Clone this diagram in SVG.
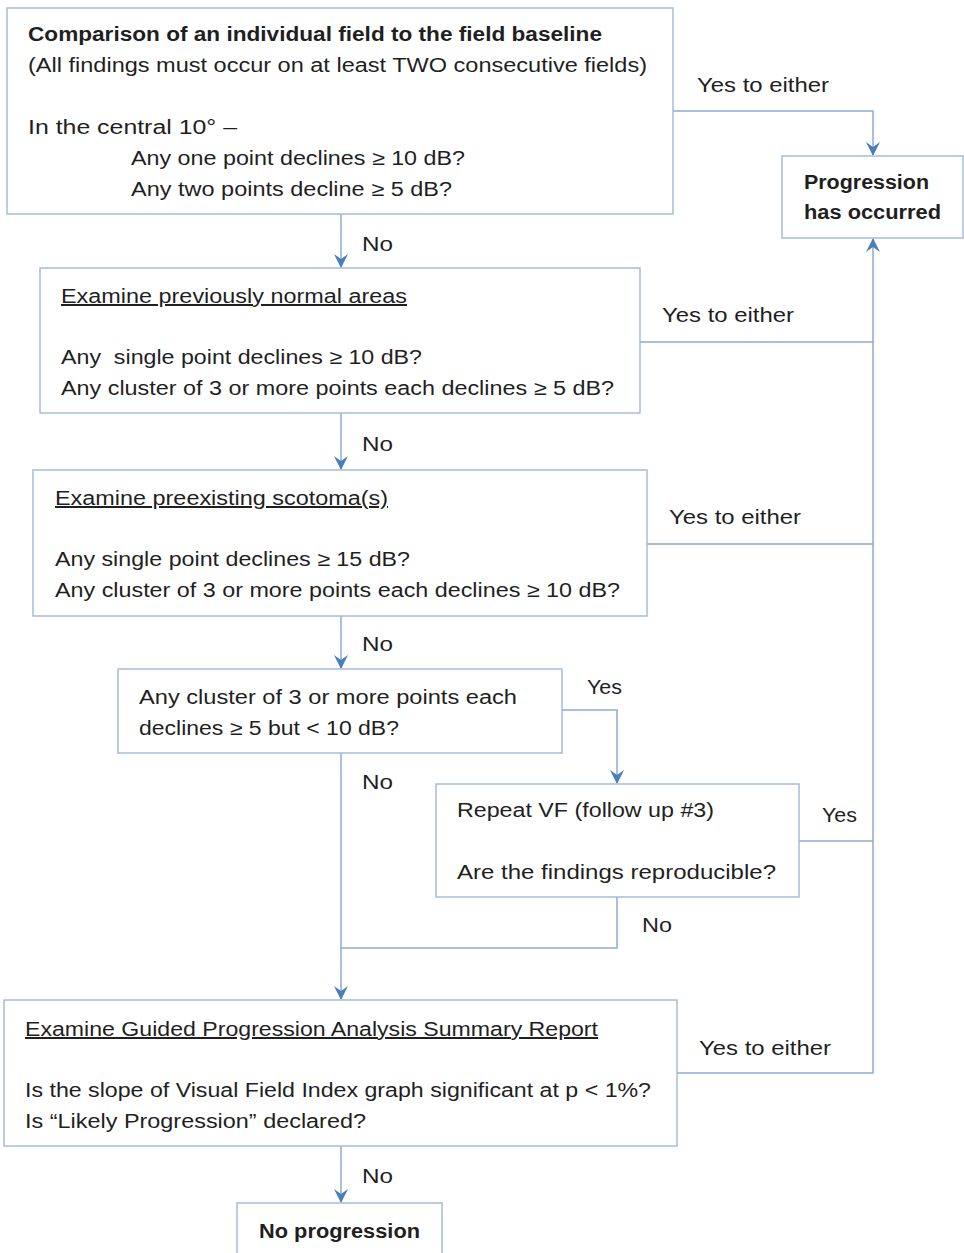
<svg xmlns="http://www.w3.org/2000/svg" width="964" height="1253" viewBox="0 0 964 1253">
<style>
.box{fill:#ffffff;stroke:#a7bcd9;stroke-width:1.5}
.ln{fill:none;stroke:#8eaad6;stroke-width:1.5}
.t{font-family:"Liberation Sans",Arial,sans-serif;font-size:20px;fill:#1f1f1f}
.b{font-weight:bold}
.u{text-decoration:underline}
</style>
<defs>
<marker id="ah" viewBox="0 0 14 14" refX="13" refY="7" markerWidth="14" markerHeight="14" markerUnits="userSpaceOnUse" orient="auto">
<path d="M0,0 L14,7 L0,14 L5,7 z" fill="#4a7ebb"/>
</marker>
</defs>
<rect width="964" height="1253" fill="#ffffff"/>
<g id="connectors">
<polyline class="ln" points="673,111 873,111 873,155" marker-end="url(#ah)"/>
<line class="ln" x1="341" y1="214" x2="341" y2="267" marker-end="url(#ah)"/>
<line class="ln" x1="341" y1="413" x2="341" y2="469" marker-end="url(#ah)"/>
<line class="ln" x1="341" y1="616" x2="341" y2="668" marker-end="url(#ah)"/>
<line class="ln" x1="341" y1="753" x2="341" y2="999" marker-end="url(#ah)"/>
<line class="ln" x1="341" y1="1146" x2="341" y2="1202" marker-end="url(#ah)"/>
<polyline class="ln" points="562,710 617,710 617,783" marker-end="url(#ah)"/>
<polyline class="ln" points="617,897 617,948 341,948"/>
<polyline class="ln" points="677,1073 873,1073 873,239" marker-end="url(#ah)"/>
<line class="ln" x1="640" y1="342" x2="873" y2="342"/>
<line class="ln" x1="647" y1="544" x2="873" y2="544"/>
<line class="ln" x1="799" y1="841" x2="873" y2="841"/>
<text class="t" x="697" y="92" textLength="132" lengthAdjust="spacingAndGlyphs">Yes to either</text>
<text class="t" x="362" y="251" textLength="31" lengthAdjust="spacingAndGlyphs">No</text>
<text class="t" x="662" y="322" textLength="132" lengthAdjust="spacingAndGlyphs">Yes to either</text>
<text class="t" x="362" y="451" textLength="31" lengthAdjust="spacingAndGlyphs">No</text>
<text class="t" x="669" y="524" textLength="132" lengthAdjust="spacingAndGlyphs">Yes to either</text>
<text class="t" x="362" y="651" textLength="31" lengthAdjust="spacingAndGlyphs">No</text>
<text class="t" x="587" y="694" textLength="35" lengthAdjust="spacingAndGlyphs">Yes</text>
<text class="t" x="362" y="789" textLength="31" lengthAdjust="spacingAndGlyphs">No</text>
<text class="t" x="822" y="822" textLength="35" lengthAdjust="spacingAndGlyphs">Yes</text>
<text class="t" x="642" y="932" textLength="30" lengthAdjust="spacingAndGlyphs">No</text>
<text class="t" x="699" y="1055" textLength="132" lengthAdjust="spacingAndGlyphs">Yes to either</text>
<text class="t" x="362" y="1183" textLength="31" lengthAdjust="spacingAndGlyphs">No</text>
</g>
<g id="n1">
<rect class="box" x="7" y="8" width="666" height="206"/>
<text class="t b" x="28" y="41" textLength="574" lengthAdjust="spacingAndGlyphs">Comparison of an individual field to the field baseline</text>
<text class="t" x="28" y="72" textLength="619" lengthAdjust="spacingAndGlyphs">(All findings must occur on at least TWO consecutive fields)</text>
<text class="t" x="28" y="134" textLength="209" lengthAdjust="spacingAndGlyphs">In the central 10° –</text>
<text class="t" x="131" y="165" textLength="334" lengthAdjust="spacingAndGlyphs">Any one point declines ≥ 10 dB?</text>
<text class="t" x="131" y="196" textLength="321" lengthAdjust="spacingAndGlyphs">Any two points decline ≥ 5 dB?</text>
</g>
<g id="n_prog">
<rect class="box" x="782" y="156" width="181" height="82"/>
<text class="t b" x="804" y="189" textLength="125" lengthAdjust="spacingAndGlyphs">Progression</text>
<text class="t b" x="804" y="219" textLength="137" lengthAdjust="spacingAndGlyphs">has occurred</text>
</g>
<g id="n2">
<rect class="box" x="40" y="268" width="600" height="145"/>
<text class="t u" x="61" y="303" textLength="346" lengthAdjust="spacingAndGlyphs">Examine previously normal areas</text>
<text class="t" x="61" y="364" textLength="361" lengthAdjust="spacingAndGlyphs" xml:space="preserve">Any  single point declines ≥ 10 dB?</text>
<text class="t" x="61" y="395" textLength="553" lengthAdjust="spacingAndGlyphs">Any cluster of 3 or more points each declines ≥ 5 dB?</text>
</g>
<g id="n3">
<rect class="box" x="33" y="470" width="614" height="146"/>
<text class="t u" x="55" y="505" textLength="333" lengthAdjust="spacingAndGlyphs">Examine preexisting scotoma(s)</text>
<text class="t" x="55" y="566" textLength="355" lengthAdjust="spacingAndGlyphs">Any single point declines ≥ 15 dB?</text>
<text class="t" x="55" y="597" textLength="565" lengthAdjust="spacingAndGlyphs">Any cluster of 3 or more points each declines ≥ 10 dB?</text>
</g>
<g id="n4">
<rect class="box" x="118" y="669" width="444" height="84"/>
<text class="t" x="139" y="704" textLength="378" lengthAdjust="spacingAndGlyphs">Any cluster of 3 or more points each</text>
<text class="t" x="139" y="735" textLength="260" lengthAdjust="spacingAndGlyphs">declines ≥ 5 but &lt; 10 dB?</text>
</g>
<g id="n5">
<rect class="box" x="436" y="784" width="363" height="113"/>
<text class="t" x="457" y="817" textLength="257" lengthAdjust="spacingAndGlyphs">Repeat VF (follow up #3)</text>
<text class="t" x="457" y="879" textLength="319" lengthAdjust="spacingAndGlyphs">Are the findings reproducible?</text>
</g>
<g id="n6">
<rect class="box" x="4" y="1000" width="673" height="146"/>
<text class="t u" x="25" y="1036" textLength="573" lengthAdjust="spacingAndGlyphs">Examine Guided Progression Analysis Summary Report</text>
<text class="t" x="25" y="1097" textLength="626" lengthAdjust="spacingAndGlyphs">Is the slope of Visual Field Index graph significant at p &lt; 1%?</text>
<text class="t" x="25" y="1128" textLength="341" lengthAdjust="spacingAndGlyphs">Is “Likely Progression” declared?</text>
</g>
<g id="n7">
<rect class="box" x="237" y="1203" width="205" height="60"/>
<text class="t b" x="259" y="1238" textLength="161" lengthAdjust="spacingAndGlyphs">No progression</text>
</g>
</svg>
